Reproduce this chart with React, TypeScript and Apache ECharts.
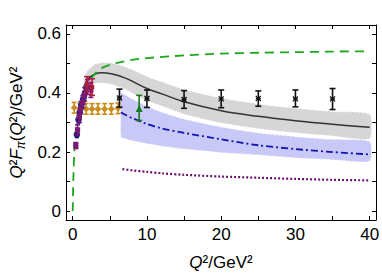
import React, { useEffect, useRef } from "react";
import * as echarts from "echarts";

const FONT = "Liberation Sans, Arial, sans-serif";

// x ticks / labels
const xTicks = [0, 5, 10, 15, 20, 25, 30, 35, 40];
const xLabels = [0, 10, 20, 30, 40];
const yTicks = [0, 0.1, 0.2, 0.3, 0.4, 0.5, 0.6];
const yLabels = [0, 0.2, 0.4, 0.6];

// green dashed curve
const greenX = [0, 0.05, 0.1, 0.2, 0.3, 0.5, 0.75, 1, 1.5, 2, 3, 4, 5, 6, 8, 10, 15, 20, 25, 30, 35, 40];
const greenY = [0, 0.07, 0.12, 0.19, 0.235, 0.29, 0.325, 0.355, 0.405, 0.43, 0.465, 0.485, 0.495, 0.502, 0.512, 0.518, 0.527, 0.533, 0.536, 0.538, 0.54, 0.541];

// black curve with grey band
const blackX = [1.5, 2, 3, 4, 5, 6, 7, 8, 10, 12, 15, 20, 25, 30, 35, 40];
const blackY = [0.42, 0.445, 0.464, 0.468, 0.466, 0.46, 0.451, 0.44, 0.415, 0.397, 0.37, 0.34, 0.321, 0.306, 0.294, 0.284];
const greyHigh = [0.45, 0.475, 0.497, 0.503, 0.502, 0.497, 0.489, 0.479, 0.456, 0.438, 0.412, 0.383, 0.363, 0.348, 0.337, 0.328];
const greyLow = [0.39, 0.415, 0.432, 0.434, 0.43, 0.423, 0.413, 0.4, 0.374, 0.356, 0.328, 0.298, 0.279, 0.265, 0.254, 0.245];

// blue dash-dot curve with blue band
const blueX = [6.5, 7, 8, 10, 12, 15, 20, 25, 30, 35, 40];
const blueY = [0.335, 0.327, 0.315, 0.295, 0.28, 0.265, 0.243, 0.223, 0.21, 0.2, 0.192];
const blueHigh = [0.4, 0.395, 0.38, 0.355, 0.335, 0.312, 0.285, 0.265, 0.252, 0.243, 0.236];
const blueLow = [0.25, 0.245, 0.238, 0.228, 0.22, 0.21, 0.198, 0.19, 0.18, 0.174, 0.169];

// purple dotted curve
const purpleX = [6.7, 8, 10, 12, 15, 20, 25, 30, 35, 40];
const purpleY = [0.142, 0.138, 0.133, 0.128, 0.123, 0.117, 0.113, 0.109, 0.106, 0.104];

// data points: [Q2, value, low, high]
const crossQ2 = [6.3, 10, 15, 20, 25, 30, 35];
const crossV = [0.383, 0.381, 0.378, 0.38, 0.381, 0.38, 0.38];
const crossLo = [0.352, 0.351, 0.348, 0.35, 0.355, 0.353, 0.344];
const crossHi = [0.413, 0.41, 0.408, 0.41, 0.407, 0.41, 0.415];

const triQ2 = [8.95];
const triV = [0.345];
const triLo = [0.307];
const triHi = [0.392];

const orangeQ2 = [0.2, 1.0, 1.8, 2.6, 3.4, 4.3, 5.2, 6.1];
const orangeV = [0.35, 0.347, 0.346, 0.346, 0.346, 0.346, 0.346, 0.348];
const orangeLo = [0.332, 0.329, 0.328, 0.328, 0.328, 0.328, 0.328, 0.33];
const orangeHi = [0.368, 0.365, 0.364, 0.364, 0.364, 0.364, 0.364, 0.366];

const navyQ2 = [0.56, 0.78, 0.95, 1.15, 1.4, 1.65];
const navyV = [0.259, 0.31, 0.335, 0.358, 0.378, 0.4];
const navyLo = [0.249, 0.298, 0.322, 0.344, 0.362, 0.383];
const navyHi = [0.269, 0.322, 0.348, 0.372, 0.394, 0.417];

const purpQ2 = [0.42, 0.65, 0.9, 1.1, 1.35, 1.6, 2.0, 2.45];
const purpV = [0.222, 0.275, 0.32, 0.35, 0.37, 0.395, 0.42, 0.41];
const purpLo = [0.212, 0.258, 0.3, 0.33, 0.35, 0.372, 0.395, 0.385];
const purpHi = [0.232, 0.292, 0.34, 0.37, 0.39, 0.418, 0.445, 0.435];

const redQ2 = [1.95, 2.6];
const redV = [0.43, 0.42];
const redLo = [0.405, 0.392];
const redHi = [0.455, 0.448];

function zipXY(xs: number[], ys: number[]) {
  return xs.map((x, i) => [x, ys[i]]);
}
function zip4(xs: number[], v: number[], lo: number[], hi: number[]) {
  return xs.map((x, i) => [x, v[i], lo[i], hi[i]]);
}

function bandSeries(xs: number[], lo: number[], hi: number[], color: string, z: number) {
  return {
    type: "custom",
    z,
    silent: true,
    data: [[xs[0], lo[0]]],
    renderItem: (params: any, api: any) => {
      const pts: number[][] = [];
      for (let i = 0; i < xs.length; i++) pts.push(api.coord([xs[i], hi[i]]));
      for (let i = xs.length - 1; i >= 0; i--) pts.push(api.coord([xs[i], lo[i]]));
      return {
        type: "polygon",
        shape: { points: pts, smooth: 0.2 },
        style: { fill: color, stroke: "#ffffff", lineWidth: 0.8, lineDash: [2, 2] },
      };
    },
  };
}

function errSeries(
  data: number[][],
  color: string,
  marker: string,
  size: number,
  cap: number,
  z: number
) {
  return {
    type: "custom",
    z,
    silent: true,
    data,
    renderItem: (params: any, api: any) => {
      const x = api.value(0);
      const p = api.coord([x, api.value(1)]);
      const lo = api.coord([x, api.value(2)]);
      const hi = api.coord([x, api.value(3)]);
      const ls = { stroke: color, lineWidth: 1.6 };
      const children: any[] = [
        { type: "line", shape: { x1: lo[0], y1: lo[1], x2: hi[0], y2: hi[1] }, style: ls },
        { type: "line", shape: { x1: lo[0] - cap, y1: lo[1], x2: lo[0] + cap, y2: lo[1] }, style: ls },
        { type: "line", shape: { x1: hi[0] - cap, y1: hi[1], x2: hi[0] + cap, y2: hi[1] }, style: ls },
      ];
      const s = size;
      if (marker === "circle") {
        children.push({ type: "circle", shape: { cx: p[0], cy: p[1], r: s }, style: { fill: color } });
      } else if (marker === "square") {
        children.push({ type: "rect", shape: { x: p[0] - s, y: p[1] - s, width: 2 * s, height: 2 * s }, style: { fill: color } });
      } else if (marker === "triangle") {
        children.push({
          type: "polygon",
          shape: { points: [[p[0], p[1] - s * 1.2], [p[0] - s, p[1] + s * 0.8], [p[0] + s, p[1] + s * 0.8]] },
          style: { fill: color },
        });
      } else if (marker === "diamond") {
        children.push({
          type: "polygon",
          shape: { points: [[p[0], p[1] - s], [p[0] + s, p[1]], [p[0], p[1] + s], [p[0] - s, p[1]]] },
          style: { fill: color },
        });
      } else if (marker === "cross") {
        const cs = { stroke: color, lineWidth: 1.3 };
        children.push({ type: "line", shape: { x1: p[0] - s, y1: p[1] - s, x2: p[0] + s, y2: p[1] + s }, style: cs });
        children.push({ type: "line", shape: { x1: p[0] - s, y1: p[1] + s, x2: p[0] + s, y2: p[1] - s }, style: cs });
        children.push({ type: "line", shape: { x1: p[0] - s, y1: p[1], x2: p[0] + s, y2: p[1] }, style: cs });
      }
      return { type: "group", children };
    },
  };
}

export default function App() {
  const ref = useRef<HTMLDivElement>(null);
  useEffect(() => {
    if (!ref.current) return;
    const chart = echarts.init(ref.current, null, { renderer: "svg" });
    const axisCommon = {
      type: "value",
      splitLine: { show: false },
      axisLine: { show: true, onZero: false, lineStyle: { color: "#000", width: 1 } },
    };
    const richName = {
      i: { fontFamily: FONT, fontSize: 17, fontStyle: "italic", color: "#000" },
      n: { fontFamily: FONT, fontSize: 17, color: "#000" },
      sub: { fontFamily: FONT, fontSize: 12, fontStyle: "italic", color: "#000", padding: [8, 0, 0, 0] },
    };
    chart.setOption({
      animation: false,
      backgroundColor: "#ffffff",
      grid: { left: 60, right: 6, top: 25, bottom: 58 },
      xAxis: [
        {
          ...axisCommon,
          position: "bottom",
          min: -0.9,
          max: 40.85,
          axisTick: { show: true, inside: true, length: 4, customValues: xTicks, lineStyle: { color: "#000" } },
          axisLabel: {
            customValues: xLabels,
            fontFamily: FONT,
            fontSize: 17,
            color: "#000",
            margin: 6,
          },
          name: "{i|Q}{n|²/GeV²}",
          nameLocation: "middle",
          nameGap: 34,
          nameTextStyle: { rich: richName },
        },
        {
          ...axisCommon,
          position: "top",
          min: -0.9,
          max: 40.85,
          axisTick: { show: true, inside: true, length: 4, customValues: xTicks, lineStyle: { color: "#000" } },
          axisLabel: { show: false },
        },
      ],
      yAxis: [
        {
          ...axisCommon,
          position: "left",
          min: -0.03,
          max: 0.63,
          axisTick: { show: true, inside: true, length: 4, customValues: yTicks, lineStyle: { color: "#000" } },
          axisLabel: {
            customValues: yLabels,
            fontFamily: FONT,
            fontSize: 17,
            color: "#000",
            margin: 5,
            formatter: (v: number) => String(Math.round(v * 10) / 10),
          },
          name: "{i|Q}{n|²}{i|F}{sub|π}{n|(}{i|Q}{n|²)/GeV²}",
          nameLocation: "middle",
          nameGap: 30,
          nameRotate: 90,
          nameTextStyle: { rich: richName },
        },
        {
          ...axisCommon,
          position: "right",
          min: -0.03,
          max: 0.63,
          axisTick: { show: true, inside: true, length: 4, customValues: yTicks, lineStyle: { color: "#000" } },
          axisLabel: { show: false },
        },
      ],
      series: [
        bandSeries(blueX, blueLow, blueHigh, "#c9c9f7", 1),
        bandSeries(blackX, greyLow, greyHigh, "#d6d6d6", 2),
        {
          type: "line",
          z: 3,
          data: zipXY(purpleX, purpleY),
          showSymbol: false,
          smooth: 0.3,
          lineStyle: { color: "#6a1470", width: 2.2, type: [2, 2] },
        },
        {
          type: "line",
          z: 3,
          data: zipXY(blueX, blueY),
          showSymbol: false,
          smooth: 0.3,
          lineStyle: { color: "#1414b4", width: 1.8, type: [7, 3, 2, 3] },
        },
        {
          type: "line",
          z: 3,
          data: zipXY(blackX, blackY),
          showSymbol: false,
          smooth: 0.4,
          lineStyle: { color: "#333333", width: 1.5 },
        },
        {
          type: "line",
          z: 3,
          data: zipXY(greenX, greenY),
          showSymbol: false,
          smooth: 0.3,
          lineStyle: { color: "#1ca81c", width: 1.8, type: [9, 6] },
        },
        errSeries(zip4(orangeQ2, orangeV, orangeLo, orangeHi), "#cc8c1c", "diamond", 3.5, 2.5, 4),
        errSeries(zip4(navyQ2, navyV, navyLo, navyHi), "#1a1a7a", "circle", 3.3, 2, 5),
        errSeries(zip4(purpQ2, purpV, purpLo, purpHi), "#7a1a72", "square", 2.6, 2.5, 6),
        errSeries(zip4(redQ2, redV, redLo, redHi), "#b01c3c", "square", 2.2, 3, 7),
        errSeries(zip4(triQ2, triV, triLo, triHi), "#1a7a1a", "triangle", 3.5, 3, 5),
        errSeries(zip4(crossQ2, crossV, crossLo, crossHi), "#111111", "cross", 2.5, 3, 5),
      ],
    });
    return () => chart.dispose();
  }, []);
  return <div ref={ref} style={{ width: 382, height: 278, position: "absolute", left: 0, top: 0 }} />;
}
